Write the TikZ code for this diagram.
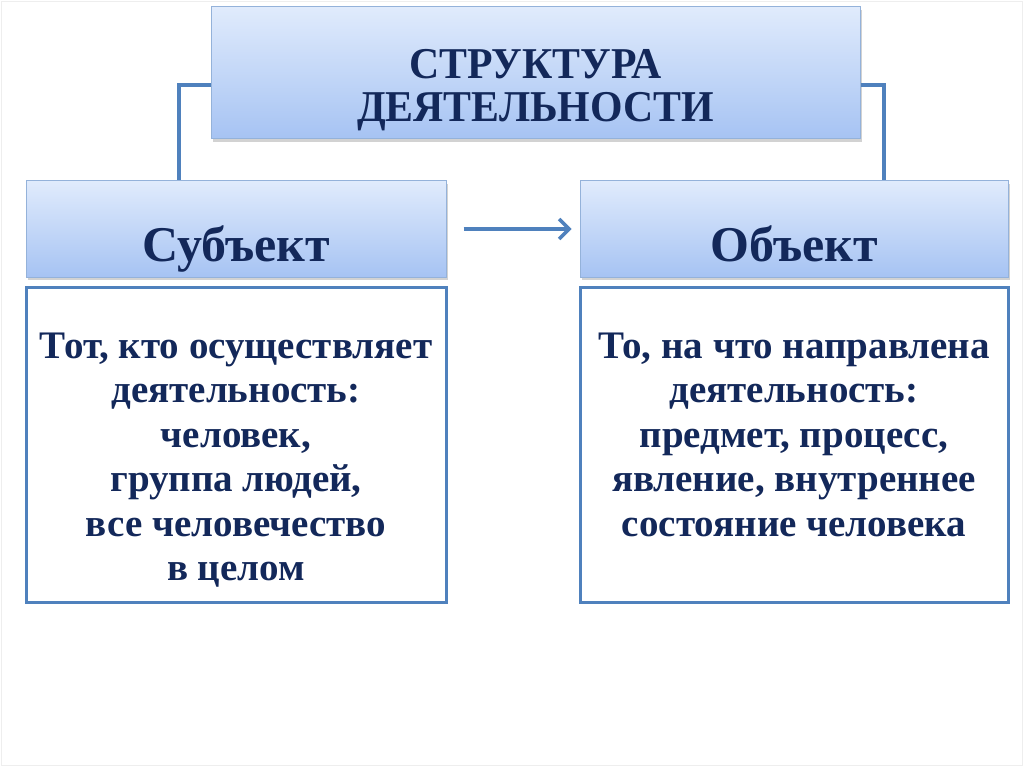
\documentclass[tikz,border=0pt]{standalone}
\usepackage{fontspec}
\setmainfont{Liberation Serif}
\usetikzlibrary{shadows,arrows.meta}
\definecolor{navy}{HTML}{13285A}
\definecolor{topblue}{HTML}{E0EBFC}
\definecolor{botblue}{HTML}{A6C3F3}
\definecolor{hdrline}{HTML}{94B2DA}
\definecolor{accent}{HTML}{4F81BD}
\definecolor{slideedge}{HTML}{EEEEEE}
\tikzset{
  hdrbox/.style={rectangle, draw=hdrline, line width=1pt, top color=topblue, bottom color=botblue,
    drop shadow={shadow xshift=2pt, shadow yshift=-3pt, opacity=0.35}, inner sep=0pt,
    text=navy, font=\bfseries},
  bodybox/.style={rectangle, draw=accent, line width=3pt, fill=white, inner sep=0pt,
    drop shadow={shadow xshift=1pt, shadow yshift=-2pt, opacity=0.25}},
  bodytext/.style={text=navy, font=\fontsize{39}{44.5}\selectfont\bfseries, inner sep=0pt, anchor=base},
  conn/.style={draw=accent, line width=3.5pt},
  flowarrow/.style={draw=accent, line width=3.5pt, -{Straight Barb[length=10pt,width=20pt,line width=3.5pt]}}
}
\begin{document}
\begin{tikzpicture}[x=1pt,y=-1pt]
\useasboundingbox (0,0) rectangle (1024,767);
\fill[white] (0,0) rectangle (1024,767);
\draw[slideedge, line width=1pt] (1.5,1.5) rectangle (1022,765);
% header boxes
\node[hdrbox, minimum width=649pt, minimum height=132pt, text height=97pt, text depth=0pt,
  font=\fontsize{44}{43}\selectfont\bfseries] (title) at (535.5,73)
  {\parbox[b]{600pt}{\centering\lineskiplimit=-100pt
   \scalebox{0.95}[1]{СТРУКТУРА}\\\scalebox{0.95}[1]{ДЕЯТЕЛЬНОСТИ}}};
\node[hdrbox, minimum width=420pt, minimum height=96pt, text height=64pt, text depth=0pt,
  font=\fontsize{50}{50}\selectfont\bfseries] (subj) at (236,229) {Субъект};
\node[hdrbox, minimum width=428pt, minimum height=96pt, text height=64pt, text depth=0pt,
  font=\fontsize{50}{50}\selectfont\bfseries] (obj) at (794,229) {Объект};
% body boxes
\node[bodybox, minimum width=420pt, minimum height=315pt] (subjbody) at (236,444.5) {};
\node[bodybox, minimum width=428pt, minimum height=315pt] (objbody) at (794,444.5) {};
\node[bodytext] (subjtext) at (236,358)
  {\parbox[t]{410pt}{\centering\lineskiplimit=-100pt
   Тот, кто осуществляет\\деятельность:\\человек,\\группа людей,\\все человечество\\в целом}};
\node[bodytext] (objtext) at (794,358)
  {\parbox[t]{420pt}{\centering\lineskiplimit=-100pt
   То, на что направлена\\деятельность:\\предмет, процесс,\\явление, внутреннее\\состояние человека}};
% connectors
\draw[conn] ([yshift=-12pt]title.west) -| ([xshift=-57pt]subj.north);
\draw[conn] ([yshift=-12pt]title.east) -| ([xshift=90pt]obj.north);
\draw[flowarrow] ([xshift=17pt]subj.east) -- ([xshift=-8pt]obj.west);
\end{tikzpicture}
\end{document}
